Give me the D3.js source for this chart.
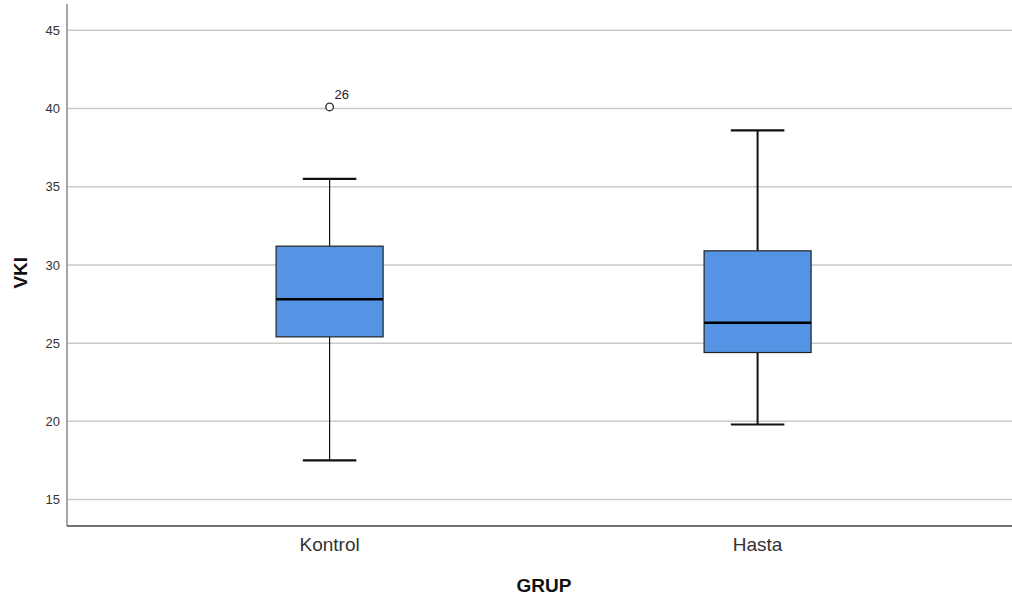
<!DOCTYPE html>
<html>
<head>
<meta charset="utf-8">
<script src="https://cdn.jsdelivr.net/npm/d3@7"></script>
<style>
  html, body { margin: 0; padding: 0; background: #fff; }
  svg { display: block; font-family: "Liberation Sans", Arial, sans-serif; }
</style>
</head>
<body>
<svg id="chart" width="1012" height="601"></svg>
<script>
// Box plot summaries of VKI by group
const groups = ["Kontrol", "Hasta"];
const whiskerLow = [17.5, 19.8];
const q1 = [25.4, 24.4];
const median = [27.8, 26.3];
const q3 = [31.2, 30.9];
const whiskerHigh = [35.5, 38.6];
const outliers = [{ group: "Kontrol", value: 40.1, label: "26" }];
const yTicks = [15, 20, 25, 30, 35, 40, 45];

const svg = d3.select("#chart");
const plotLeft = 67, plotRight = 1012, plotTop = 4, plotBottom = 526;

const x = d3.scaleBand().domain(groups).range([plotLeft, plotRight])
  .paddingInner(0.75).paddingOuter(0.479).align(0.51);
const y = d3.scaleLinear().domain([13.31, 46.68]).range([plotBottom, plotTop]);

// gridlines
svg.append("g").selectAll("line").data(yTicks).join("line")
  .attr("x1", plotLeft).attr("x2", plotRight)
  .attr("y1", d => y(d)).attr("y2", d => y(d))
  .attr("stroke", "#c9c9c9").attr("stroke-width", 1.5);

// y axis
const yAxis = svg.append("g").attr("transform", `translate(${plotLeft},0)`)
  .call(d3.axisLeft(y).tickValues(yTicks).tickSize(0).tickPadding(7));
yAxis.select(".domain").remove();
yAxis.selectAll("text").attr("font-size", 13).attr("fill", "#333")
  .attr("font-family", "'Liberation Sans', Arial, sans-serif");
svg.append("line").attr("x1", plotLeft).attr("x2", plotLeft).attr("y1", plotTop).attr("y2", plotBottom)
  .attr("stroke", "#8a8a8a").attr("stroke-width", 1.5);

// x axis
const xAxis = svg.append("g").attr("transform", `translate(0,${plotBottom})`)
  .call(d3.axisBottom(x).tickSize(0).tickPadding(12));
xAxis.select(".domain").remove();
xAxis.selectAll("text").attr("font-size", 19).attr("fill", "#333")
  .attr("font-family", "'Liberation Sans', Arial, sans-serif");
svg.append("line").attr("x1", plotLeft).attr("x2", plotRight).attr("y1", plotBottom).attr("y2", plotBottom)
  .attr("stroke", "#444").attr("stroke-width", 1.5);

// axis titles
svg.append("text").attr("x", 544).attr("y", 592)
  .attr("text-anchor", "middle").attr("font-size", 19).attr("font-weight", "bold")
  .attr("fill", "#111").text("GRUP");
svg.append("text").attr("transform", `translate(27,${y(29.5)}) rotate(-90)`)
  .attr("text-anchor", "middle").attr("font-size", 19).attr("font-weight", "bold")
  .attr("fill", "#111").text("VKI");

// boxes
const lineW = [1.2, 2];
const boxes = svg.append("g").selectAll("g").data(groups).join("g");
boxes.each(function (g, i) {
  const sel = d3.select(this);
  const bx = x(g), bw = x.bandwidth(), cx = bx + bw / 2, capHalf = bw / 4;
  // whisker stems
  sel.append("line").attr("x1", cx).attr("x2", cx)
    .attr("y1", y(q3[i])).attr("y2", y(whiskerHigh[i]))
    .attr("stroke", "#111").attr("stroke-width", lineW[i]);
  sel.append("line").attr("x1", cx).attr("x2", cx)
    .attr("y1", y(q1[i])).attr("y2", y(whiskerLow[i]))
    .attr("stroke", "#111").attr("stroke-width", lineW[i]);
  // caps
  [whiskerHigh[i], whiskerLow[i]].forEach(v => {
    sel.append("line").attr("x1", cx - capHalf).attr("x2", cx + capHalf)
      .attr("y1", y(v)).attr("y2", y(v))
      .attr("stroke", "#111").attr("stroke-width", 2.2);
  });
  // box
  sel.append("rect").attr("x", bx).attr("width", bw)
    .attr("y", y(q3[i])).attr("height", y(q1[i]) - y(q3[i]))
    .attr("fill", "#5594e4").attr("stroke", "#222").attr("stroke-width", 1.2);
  // median
  sel.append("line").attr("x1", bx).attr("x2", bx + bw)
    .attr("y1", y(median[i])).attr("y2", y(median[i]))
    .attr("stroke", "#000").attr("stroke-width", 2.5);
});

// outliers
const out = svg.append("g").selectAll("g").data(outliers).join("g");
out.append("circle")
  .attr("cx", d => x(d.group) + x.bandwidth() / 2).attr("cy", d => y(d.value))
  .attr("r", 3.8).attr("fill", "#fff").attr("stroke", "#333").attr("stroke-width", 1.4);
out.append("text")
  .attr("x", d => x(d.group) + x.bandwidth() / 2 + 5).attr("y", d => y(d.value) - 8)
  .attr("font-size", 13).attr("fill", "#222").text(d => d.label);
</script>
</body>
</html>
